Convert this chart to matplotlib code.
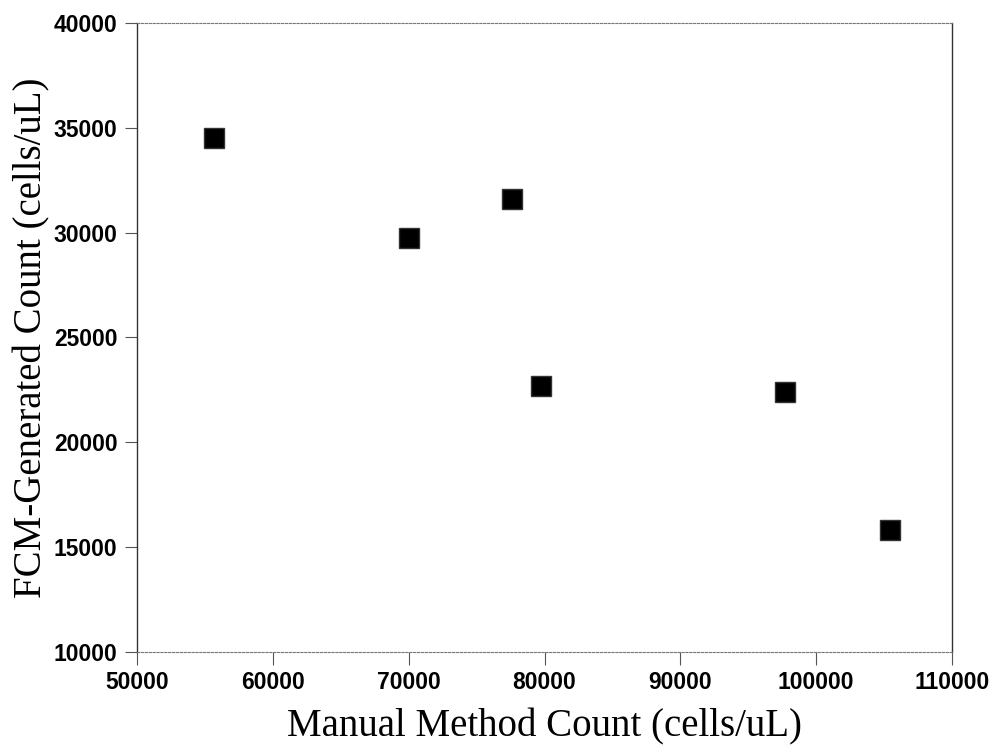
import matplotlib
matplotlib.use("Agg")
import matplotlib.pyplot as plt

# values
manual_count = [55700, 70000, 77600, 79750, 97700, 105400]
fcm_count = [34500, 29750, 31600, 22700, 22400, 15800]

x_ticks = [50000, 60000, 70000, 80000, 90000, 100000, 110000]
y_ticks = [10000, 15000, 20000, 25000, 30000, 35000, 40000]

fig = plt.figure(figsize=(9.95, 7.49), dpi=100)
ax = fig.add_axes([0.1377, 0.1295, 0.8191, 0.8398])

ax.plot(manual_count, fcm_count, linestyle="none", marker="s", ms=14.5,
        color="black", mec="#333333", mew=1)

ax.set_xlim(50000, 110000)
ax.set_ylim(10000, 40000)
ax.set_xticks(x_ticks)
ax.set_yticks(y_ticks)

tick_font = {"family": "Liberation Sans", "size": 16.5, "weight": "bold"}
ax.set_xticklabels([str(t) for t in x_ticks], fontdict=tick_font)
ax.set_yticklabels([str(t) for t in y_ticks], fontdict=tick_font)
ax.tick_params(direction="out", length=9, width=0.8, color="#555555", pad=5)

# top and bottom frame look dotted in the scan
for side in ["top", "bottom"]:
    ax.spines[side].set_linestyle((0, (2, 1.5)))
    ax.spines[side].set_color("#777777")
    ax.spines[side].set_linewidth(0.8)
for side in ["left", "right"]:
    ax.spines[side].set_color("#333333")
    ax.spines[side].set_linewidth(1.0)

label_font = {"family": "Liberation Serif", "size": 28}
ax.set_xlabel("Manual Method Count (cells/uL)", fontdict=label_font, labelpad=10)
ax.set_ylabel("FCM-Generated Count (cells/uL)", fontdict=label_font, labelpad=2)

fig.savefig("out.png", dpi=100)
